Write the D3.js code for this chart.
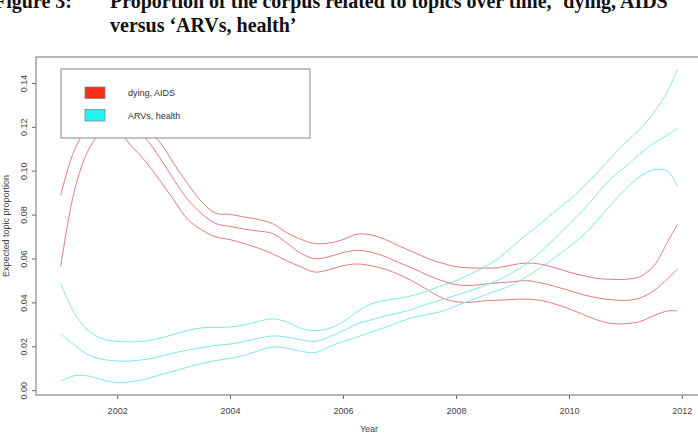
<!DOCTYPE html>
<meta charset="utf-8">
<script src="https://d3js.org/d3.v7.min.js"></script>
<style>
  body { margin: 0; background: #fff; }
  svg { display: block; }
  .title { font-family: "Liberation Serif", "Times New Roman", serif; font-weight: bold; font-size: 20px; fill: #111; }
  .axis text, .lab { font-family: "Liberation Sans", Arial, sans-serif; font-size: 9px; fill: #444; }
</style>
<body>
<div id="chart"></div>

<script>
// years (quarterly) the smoothed curves were read at
var years = [2001, 2001.25, 2001.5, 2001.75, 2002, 2002.25, 2002.5, 2002.75, 2003, 2003.25,
  2003.5, 2003.75, 2004, 2004.25, 2004.5, 2004.75, 2005, 2005.25, 2005.5, 2005.75,
  2006, 2006.25, 2006.5, 2006.75, 2007, 2007.25, 2007.5, 2007.75, 2008, 2008.25,
  2008.5, 2008.75, 2009, 2009.25, 2009.5, 2009.75, 2010, 2010.25, 2010.5, 2010.75,
  2011, 2011.25, 2011.5, 2011.75, 2011.92];

// 'dying, AIDS' : upper band, estimate, lower band
var dyingUpper = [0.121, 0.127, 0.130, 0.131, 0.130, 0.127, 0.119, 0.1132, 0.1034, 0.0940,
  0.0858, 0.0806, 0.0801, 0.0789, 0.0778, 0.0759, 0.0718, 0.0688, 0.0668, 0.0670,
  0.0686, 0.0711, 0.0707, 0.0686, 0.0656, 0.0629, 0.0600, 0.0579, 0.0563, 0.0557,
  0.0556, 0.0558, 0.0571, 0.0579, 0.0574, 0.0558, 0.0538, 0.0522, 0.0509, 0.0505,
  0.0505, 0.0517, 0.0565, 0.0677, 0.0755];
var dyingMean = [0.0887, 0.1098, 0.1199, 0.1231, 0.1226, 0.1194, 0.1148, 0.1061, 0.0961, 0.0869,
  0.0803, 0.0759, 0.0746, 0.0734, 0.0725, 0.0714, 0.0672, 0.0624, 0.0599, 0.0608,
  0.0627, 0.0637, 0.0629, 0.0608, 0.0580, 0.0554, 0.0524, 0.0499, 0.0481, 0.0477,
  0.0483, 0.0489, 0.0494, 0.0499, 0.0489, 0.0473, 0.0455, 0.0435, 0.0421, 0.0412,
  0.0409, 0.0419, 0.0453, 0.0508, 0.0552];
var dyingLower = [0.0563, 0.0915, 0.1098, 0.118, 0.118, 0.1113, 0.1043, 0.0958, 0.0868, 0.0778,
  0.0730, 0.0698, 0.0686, 0.0668, 0.0647, 0.0622, 0.0590, 0.0563, 0.0538, 0.0549,
  0.0567, 0.0575, 0.0567, 0.0551, 0.0526, 0.0494, 0.0457, 0.0421, 0.0403, 0.0400,
  0.0407, 0.0410, 0.0413, 0.0415, 0.0409, 0.0393, 0.0371, 0.0345, 0.0320, 0.0304,
  0.0303, 0.0312, 0.0339, 0.0361, 0.0361];

// 'ARVs, health' : upper band, estimate, lower band
var arvUpper = [0.0487, 0.0348, 0.0270, 0.0233, 0.0222, 0.0220, 0.0224, 0.0236, 0.0254, 0.0272,
  0.0284, 0.0286, 0.0288, 0.0297, 0.0313, 0.0325, 0.0311, 0.0282, 0.0271, 0.0281,
  0.0311, 0.0357, 0.0393, 0.0409, 0.0419, 0.0432, 0.0453, 0.0476, 0.0499, 0.0528,
  0.0560, 0.0599, 0.0654, 0.0709, 0.0759, 0.0814, 0.0865, 0.0925, 0.0990, 0.1060,
  0.1128, 0.1187, 0.1263, 0.1363, 0.1461];
var arvMean = [0.0258, 0.0204, 0.0160, 0.0140, 0.0133, 0.0133, 0.0140, 0.0153, 0.0169, 0.0183,
  0.0194, 0.0204, 0.0210, 0.0222, 0.0236, 0.0247, 0.0242, 0.0229, 0.0222, 0.0242,
  0.0270, 0.0302, 0.0320, 0.0339, 0.0352, 0.0371, 0.0393, 0.0412, 0.0432, 0.0453,
  0.0476, 0.0501, 0.0535, 0.0576, 0.0631, 0.0691, 0.0755, 0.0819, 0.0894, 0.0965,
  0.1018, 0.1075, 0.1125, 0.1162, 0.1194];
var arvLower = [0.0041, 0.0066, 0.0064, 0.0046, 0.0035, 0.0039, 0.0050, 0.0069, 0.0087, 0.0105,
  0.0121, 0.0135, 0.0145, 0.0158, 0.0180, 0.0197, 0.0192, 0.0178, 0.0171, 0.0197,
  0.0222, 0.0242, 0.0265, 0.0286, 0.0311, 0.0332, 0.0345, 0.0359, 0.0384, 0.0408,
  0.0432, 0.0455, 0.0480, 0.0517, 0.0558, 0.0604, 0.0652, 0.0704, 0.0773, 0.0846,
  0.0915, 0.0972, 0.1004, 0.0997, 0.0930];

var xTicks = [2002, 2004, 2006, 2008, 2010, 2012];
var yTicks = [0, 0.02, 0.04, 0.06, 0.08, 0.10, 0.12, 0.14];
var legendLabels = ["dying, AIDS", "ARVs, health"];

// size of the page and of the plotting box
var width = 698, height = 438;
var plot = {left: 36, right: 702, top: 57, bottom: 395};

var svg = d3.select("#chart")
  .append("svg")
    .attr("width", width)
    .attr("height", height);

// title, as in the report (top line runs off the page)
svg.append("text").attr("class", "title").attr("x", -6).attr("y", 8).text("Figure 3:");
svg.append("text").attr("class", "title").attr("x", 110).attr("y", 8)
  .text("Proportion of the corpus related to topics over time, \u2018dying, AIDS");
svg.append("text").attr("class", "title").attr("x", 110).attr("y", 32)
  .text("versus \u2018ARVs, health\u2019");

// R style range: data extent plus 4% each side
function pad(ext) {
  var d = (ext[1] - ext[0]) * 0.04;
  return [ext[0] - d, ext[1] + d];
}
var allValues = [].concat(dyingUpper, dyingMean, dyingLower, arvUpper, arvMean, arvLower);

var x = d3.scaleLinear()
  .domain(pad(d3.extent(years)))
  .range([plot.left, plot.right]);
var y = d3.scaleLinear()
  .domain(pad(d3.extent(allValues)))
  .range([plot.bottom, plot.top]);

// X axis
svg.append("g")
    .attr("class", "axis")
    .attr("transform", "translate(0," + plot.bottom + ")")
    .call(d3.axisBottom(x).tickValues(xTicks).tickSize(4).tickFormat(d3.format("d")))
    .call(function(g) { g.select(".domain").remove(); })
    .call(function(g) { g.selectAll("line").attr("stroke", "#666"); })
  .selectAll("text")
    .attr("y", 18.5)
    .attr("dy", 0);

// Y axis, labels turned like R's default
svg.append("g")
    .attr("class", "axis")
    .attr("transform", "translate(" + plot.left + ",0)")
    .call(d3.axisLeft(y).tickValues(yTicks).tickSize(4).tickFormat(d3.format(".2f")))
    .call(function(g) { g.select(".domain").remove(); })
    .call(function(g) { g.selectAll("line").attr("stroke", "#666"); })
  .selectAll("text")
    .attr("transform", "rotate(-90)")
    .attr("x", 0)
    .attr("y", -9.5)
    .attr("dy", 0)
    .attr("text-anchor", "middle");

// box round the plot
svg.append("rect")
  .attr("x", plot.left)
  .attr("y", plot.top)
  .attr("width", plot.right - plot.left)
  .attr("height", plot.bottom - plot.top)
  .attr("fill", "none")
  .attr("stroke", "#888")
  .attr("stroke-width", 1.2);

// axis titles
svg.append("text").attr("class", "lab")
  .attr("x", (plot.left + plot.right) / 2).attr("y", 432)
  .attr("text-anchor", "middle")
  .text("Year");
svg.append("text").attr("class", "lab")
  .attr("transform", "translate(9," + (plot.top + plot.bottom) / 2 + ") rotate(-90)")
  .attr("text-anchor", "middle")
  .text("Expected topic proportion");

// the lines
var line = d3.line()
  .x(function(d, i) { return x(years[i]); })
  .y(function(d) { return y(d); })
  .curve(d3.curveCatmullRom);

var series = [
  {values: dyingUpper, color: "#e47b7d"},
  {values: dyingMean, color: "#e47b7d"},
  {values: dyingLower, color: "#e47b7d"},
  {values: arvUpper, color: "#7de8e4"},
  {values: arvMean, color: "#7de8e4"},
  {values: arvLower, color: "#7de8e4"}
];

svg.selectAll(".curve")
  .data(series)
  .enter().append("path")
    .attr("class", "curve")
    .attr("fill", "none")
    .attr("stroke", function(d) { return d.color; })
    .attr("stroke-width", 1)
    .attr("d", function(d) { return line(d.values); });

// legend, white box drawn over the lines
var legend = svg.append("g");
legend.append("rect")
  .attr("x", 61).attr("y", 69)
  .attr("width", 249).attr("height", 69)
  .attr("fill", "#fff")
  .attr("stroke", "#888");

var swatch = ["#f4301c", "#1ef4f2"];
legendLabels.forEach(function(label, i) {
  legend.append("rect")
    .attr("x", 85).attr("y", 87 + i * 22.5)
    .attr("width", 20).attr("height", 11.5)
    .attr("fill", swatch[i])
    .attr("stroke", "#7a8a8a")
    .attr("stroke-width", 0.8);
  legend.append("text")
    .attr("class", "lab")
    .attr("x", 128).attr("y", 96 + i * 22.5)
    .style("fill", "#333")
    .text(label);
});
</script>
</body>
